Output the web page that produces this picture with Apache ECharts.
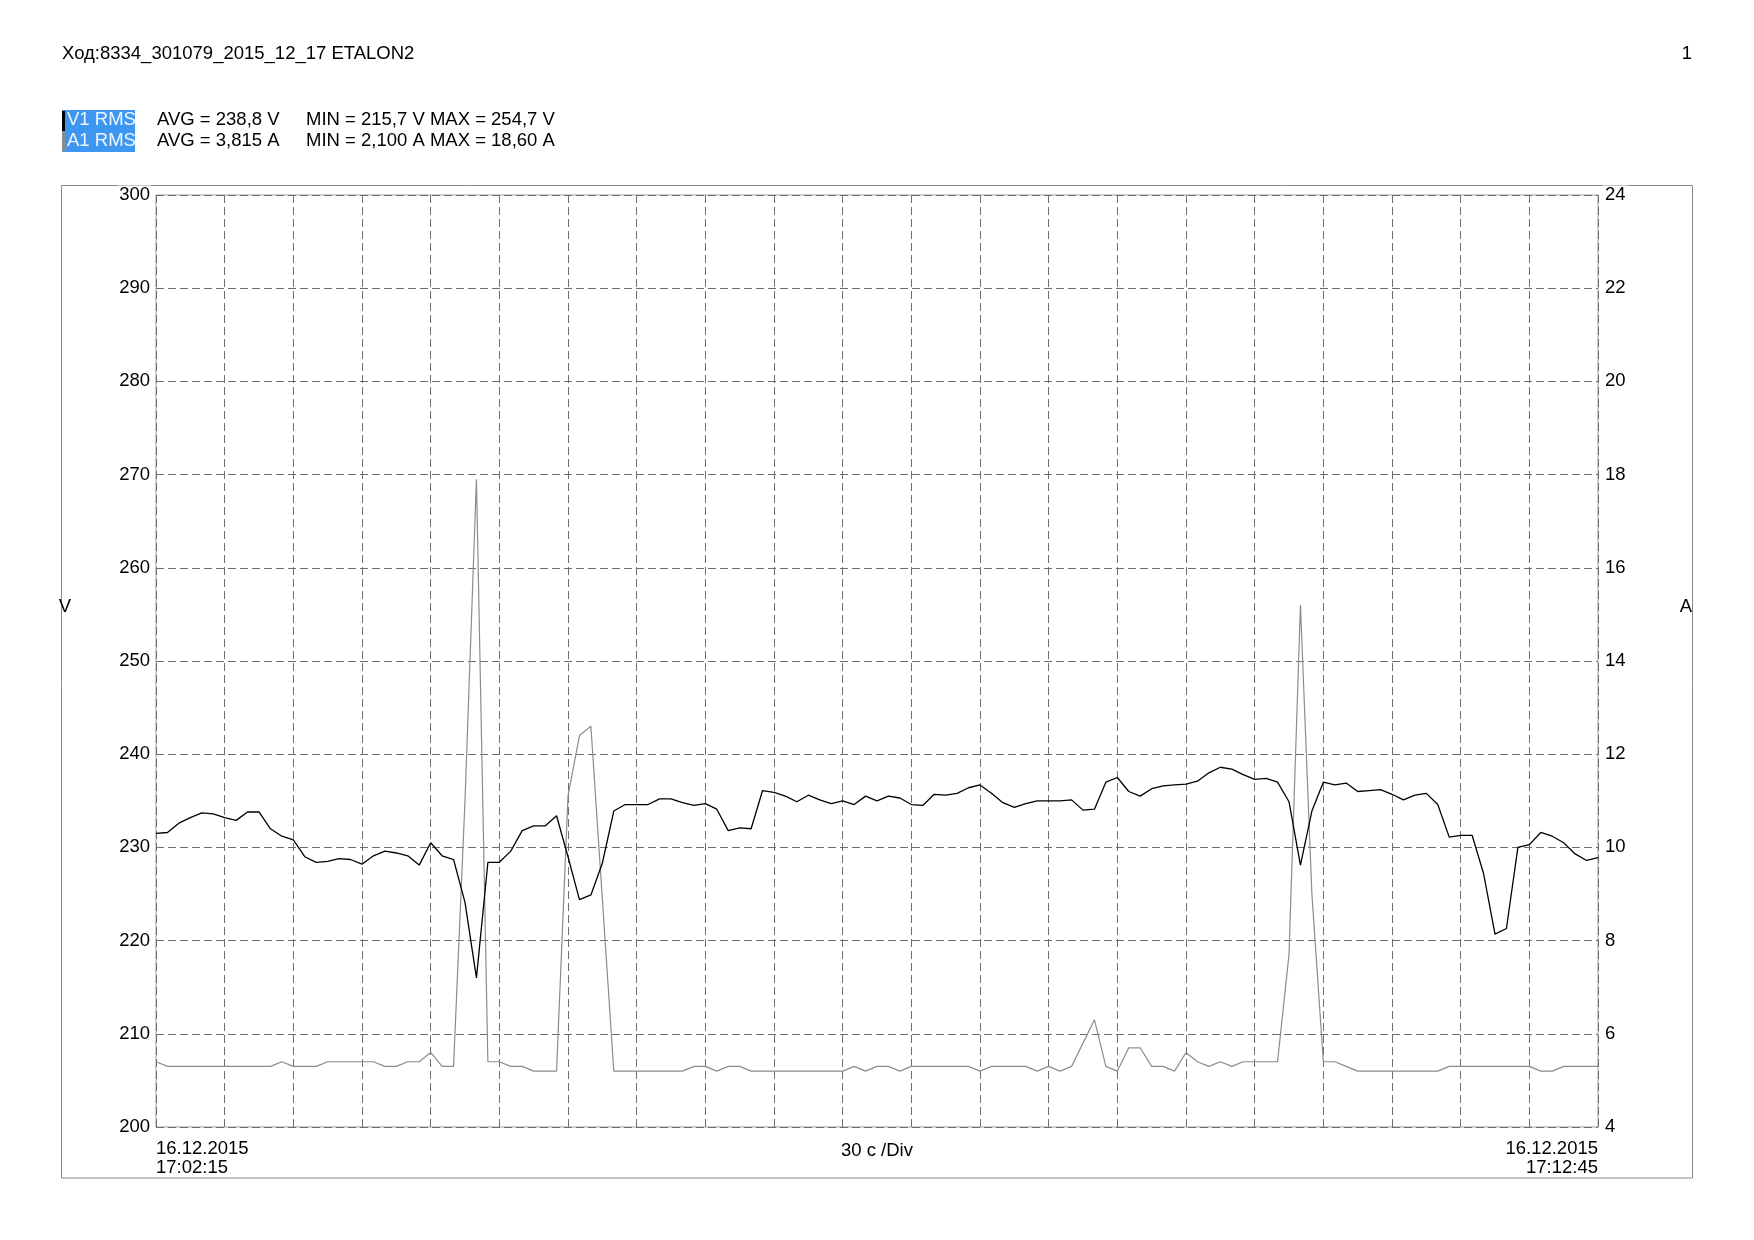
<!DOCTYPE html>
<html>
<head>
<meta charset="utf-8">
<script src="https://cdn.jsdelivr.net/npm/echarts@6/dist/echarts.min.js"></script>
<style>
html,body{margin:0;padding:0;background:#fff;}
#chart{width:1754px;height:1240px;}
</style>
</head>
<body>
<div id="chart"></div>
<script>
// ---- data ----
const titleText = 'Ход:8334_301079_2015_12_17 ETALON2';
const pageNumber = '1';
const seriesNames = ['V1 RMS', 'A1 RMS'];
const avgTexts = ['AVG = 238,8 V', 'AVG = 3,815 A'];
const minMaxTexts = ['MIN = 215,7 V MAX = 254,7 V', 'MIN = 2,100 A MAX = 18,60 A'];
const startLabel = ['16.12.2015', '17:02:15'];
const endLabel = ['16.12.2015', '17:12:45'];
const divLabel = '30 c /Div';
const leftUnit = 'V';
const rightUnit = 'A';
const startTime = [17, 2, 15];
const stepSeconds = 5;
const pointCount = 127;

const voltage = [
  231.5, 231.6, 232.6, 233.2, 233.7, 233.6, 233.2, 232.9, 233.8, 233.8,
  232.0, 231.2, 230.8, 229.0, 228.4, 228.5, 228.8, 228.7, 228.2, 229.1,
  229.6, 229.4, 229.1, 228.1, 230.5, 229.1, 228.7, 224.1, 216.0, 228.4,
  228.4, 229.6, 231.8, 232.3, 232.3, 233.4, 229.0, 224.4, 224.9, 228.3,
  233.9, 234.6, 234.6, 234.6, 235.2, 235.2, 234.8, 234.5, 234.7, 234.1,
  231.8, 232.1, 232.0, 236.1, 235.9, 235.5, 234.9, 235.6, 235.1, 234.7,
  235.0, 234.6, 235.5, 235.0, 235.5, 235.3, 234.6, 234.5, 235.7, 235.6,
  235.8, 236.4, 236.7, 235.8, 234.8, 234.3, 234.7, 235.0, 235.0, 235.0,
  235.1, 234.0, 234.1, 237.0, 237.5, 236.0, 235.5, 236.3, 236.6, 236.7,
  236.8, 237.1, 238.0, 238.6, 238.4, 237.8, 237.3, 237.4, 237.0, 234.9,
  228.1, 233.9, 237.0, 236.7, 236.9, 236.0, 236.1, 236.2, 235.7, 235.1,
  235.6, 235.8, 234.6, 231.1, 231.3, 231.3, 227.2, 220.7, 221.3, 230.0,
  230.3, 231.6, 231.2, 230.5, 229.3, 228.6, 228.9
];
const current = [
  5.4, 5.3, 5.3, 5.3, 5.3, 5.3, 5.3, 5.3, 5.3, 5.3,
  5.3, 5.4, 5.3, 5.3, 5.3, 5.4, 5.4, 5.4, 5.4, 5.4,
  5.3, 5.3, 5.4, 5.4, 5.6, 5.3, 5.3, 11.0, 17.9, 5.4,
  5.4, 5.3, 5.3, 5.2, 5.2, 5.2, 11.1, 12.4, 12.6, 8.9,
  5.2, 5.2, 5.2, 5.2, 5.2, 5.2, 5.2, 5.3, 5.3, 5.2,
  5.3, 5.3, 5.2, 5.2, 5.2, 5.2, 5.2, 5.2, 5.2, 5.2,
  5.2, 5.3, 5.2, 5.3, 5.3, 5.2, 5.3, 5.3, 5.3, 5.3,
  5.3, 5.3, 5.2, 5.3, 5.3, 5.3, 5.3, 5.2, 5.3, 5.2,
  5.3, 5.8, 6.3, 5.3, 5.2, 5.7, 5.7, 5.3, 5.3, 5.2,
  5.6, 5.4, 5.3, 5.4, 5.3, 5.4, 5.4, 5.4, 5.4, 7.7,
  15.2, 9.0, 5.4, 5.4, 5.3, 5.2, 5.2, 5.2, 5.2, 5.2,
  5.2, 5.2, 5.2, 5.3, 5.3, 5.3, 5.3, 5.3, 5.3, 5.3,
  5.3, 5.2, 5.2, 5.3, 5.3, 5.3, 5.3
];

// ---- categories (sample times) ----
const pad = n => String(n).padStart(2, '0');
const categories = [];
for (let i = 0; i < pointCount; i++) {
  const s = startTime[0] * 3600 + startTime[1] * 60 + startTime[2] + i * stepSeconds;
  categories.push(pad(Math.floor(s / 3600)) + ':' + pad(Math.floor(s / 60) % 60) + ':' + pad(s % 60));
}

// ---- layout ----
const FONT = '"Liberation Sans", Arial, sans-serif';
const FS = 18.5;
const F = FS + 'px ' + FONT;
const GL = 156, GT = 195, GR = 1598, GB = 1127;

const chart = echarts.init(document.getElementById('chart'), null, {renderer: 'canvas'});

const gfx = [];
gfx.push({type: 'rect', z: -5, shape: {x: 61.5, y: 185.5, width: 1631, height: 992.5},
  style: {fill: 'none', stroke: '#8a8a8a', lineWidth: 1}});
gfx.push({type: 'text', x: 62, y: 54, style: {text: titleText, font: F, fill: '#000', align: 'left', verticalAlign: 'middle'}});
gfx.push({type: 'text', x: 1692, y: 54, style: {text: pageNumber, font: F, fill: '#000', align: 'right', verticalAlign: 'middle'}});
// legend block
gfx.push({type: 'rect', shape: {x: 62, y: 110, width: 73, height: 42}, style: {fill: '#3d97f0'}});
gfx.push({type: 'rect', shape: {x: 62, y: 111, width: 3, height: 20}, style: {fill: '#000'}});
gfx.push({type: 'rect', shape: {x: 62, y: 132, width: 3, height: 19}, style: {fill: '#8c8c8c'}});
const rowY = [120, 141];
for (let r = 0; r < 2; r++) {
  gfx.push({type: 'text', x: 67, y: rowY[r], style: {text: seriesNames[r], font: F, fill: '#eef6ff', align: 'left', verticalAlign: 'middle'}});
  gfx.push({type: 'text', x: 157, y: rowY[r], style: {text: avgTexts[r], font: F, fill: '#000', align: 'left', verticalAlign: 'middle'}});
  gfx.push({type: 'text', x: 306, y: rowY[r], style: {text: minMaxTexts[r], font: F, fill: '#000', align: 'left', verticalAlign: 'middle'}});
}
// unit labels
gfx.push({type: 'text', x: 65, y: 607, style: {text: leftUnit, font: F, fill: '#000', align: 'center', verticalAlign: 'middle'}});
gfx.push({type: 'text', x: 1686, y: 607, style: {text: rightUnit, font: F, fill: '#000', align: 'center', verticalAlign: 'middle'}});
// bottom time labels
gfx.push({type: 'text', x: GL, y: 1158, style: {text: startLabel.join('\n'), font: F, lineHeight: 19, fill: '#000', align: 'left', verticalAlign: 'middle'}});
gfx.push({type: 'text', x: GR, y: 1158, style: {text: endLabel.join('\n'), font: F, lineHeight: 19, fill: '#000', align: 'right', verticalAlign: 'middle'}});

const option = {
  animation: false,
  backgroundColor: '#ffffff',
  textStyle: {fontFamily: FONT},
  grid: {left: GL, top: GT, right: 1754 - GR, bottom: 1240 - GB, show: true, borderColor: '#a0a0a0', borderWidth: 1, backgroundColor: 'transparent'},
  xAxis: {
    type: 'category',
    data: categories,
    boundaryGap: false,
    name: divLabel,
    nameLocation: 'middle',
    nameGap: 14,
    nameTextStyle: {fontSize: FS, color: '#000', fontFamily: FONT, verticalAlign: 'top'},
    axisLine: {show: false},
    axisTick: {show: false},
    axisLabel: {show: false},
    splitLine: {show: true, interval: 5, lineStyle: {color: '#6e6e6e', type: [8, 4], width: 1}}
  },
  yAxis: [
    {
      type: 'value', min: 200, max: 300, interval: 10, position: 'left',
      axisLine: {show: false}, axisTick: {show: false},
      axisLabel: {fontSize: FS, color: '#000', fontFamily: FONT, margin: 5, backgroundColor: '#fff', padding: [0, 1]},
      splitLine: {show: true, lineStyle: {color: '#6e6e6e', type: [8, 4], width: 1}}
    },
    {
      type: 'value', min: 4, max: 24, interval: 2, position: 'right',
      axisLine: {show: false}, axisTick: {show: false},
      axisLabel: {fontSize: FS, color: '#000', fontFamily: FONT, margin: 5, backgroundColor: '#fff', padding: [0, 2]},
      splitLine: {show: false}
    }
  ],
  series: [
    {
      name: seriesNames[1], type: 'line', yAxisIndex: 1, data: current,
      symbol: 'none', lineStyle: {color: '#8c8c8c', width: 1.2}, z: 2
    },
    {
      name: seriesNames[0], type: 'line', yAxisIndex: 0, data: voltage,
      symbol: 'none', lineStyle: {color: '#000000', width: 1.3}, z: 3
    }
  ],
  graphic: {elements: gfx}
};
chart.setOption(option);
</script>
</body>
</html>
